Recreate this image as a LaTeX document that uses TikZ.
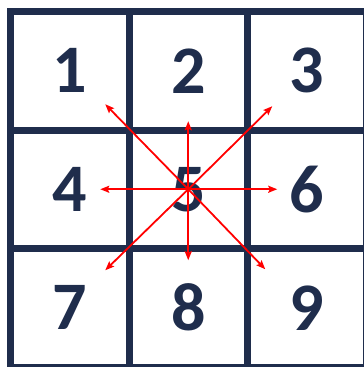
\documentclass[tikz,border=0pt]{standalone}
\usepackage{fontspec}
\setmainfont{Carlito}
\usetikzlibrary{arrows.meta}
\definecolor{navy}{HTML}{1F2D4C}
\begin{document}
\begin{tikzpicture}[
    x=1pt, y=-1pt,
    % Estilos
    gridline/.style={line width=7pt, draw=navy},
    cell/.style={inner sep=0pt, text=navy, font=\fontsize{68}{68}\selectfont\bfseries},
    ray/.style={draw=red, line width=1.8pt, -{Stealth[length=9pt, width=7pt, inset=1.5pt]}}
    ]
    \clip (0,0) rectangle (364,367);
    \fill[white] (0,0) rectangle (364,367);

    % Rejilla 3x3
    \foreach \k in {0,...,3} {
        \draw[gridline] (10.5+118.5*\k, 8) -- (10.5+118.5*\k, 372);
        \draw[gridline] (7, 11.5+118.5*\k) -- (370, 11.5+118.5*\k);
    }

    % Casillas
    \foreach \n [count=\i from 0] in {1,...,9} {
        \pgfmathtruncatemacro{\col}{mod(\i,3)}
        \pgfmathtruncatemacro{\row}{div(\i,3)}
        \node (c\n) [cell] at (69.75+118.5*\col, 70.75+118.5*\row) {\n};
    }

    % Flechas desde el centro
    \foreach \n/\dx/\dy in {1/-83/-85, 2/0/-68, 3/84/-83, 4/-88/0, 6/89/0, 7/-83/81, 8/0/71, 9/77/80} {
        \coordinate (t\n) at ([shift={(\dx,\dy)}]c5.center);
        \draw [ray] (c5.center) -- (t\n);
    }
\end{tikzpicture}
\end{document}
